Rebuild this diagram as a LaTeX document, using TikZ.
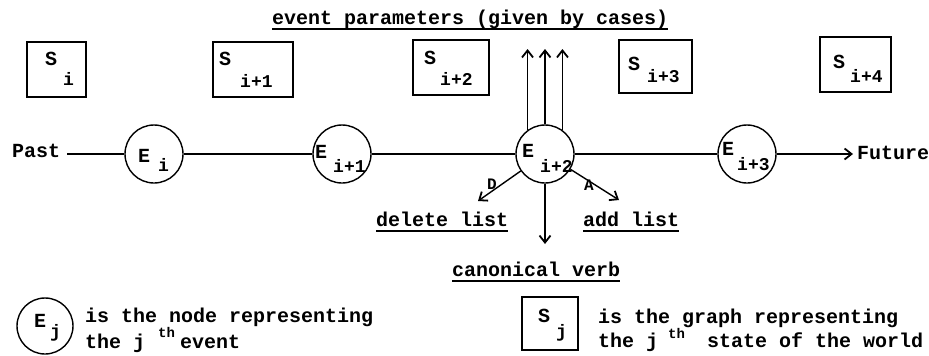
\documentclass[tikz,border=0pt]{standalone}
\usepackage{fontspec}
\setmainfont{Liberation Mono}
\usetikzlibrary{arrows.meta}
\tikzset{
  txt/.style={anchor=base west, inner sep=0pt, font=\fontsize{20}{24}\selectfont\bfseries},
  sub/.style={anchor=base west, inner sep=0pt, font=\fontsize{18}{22}\selectfont\bfseries},
  sml/.style={anchor=base west, inner sep=0pt, font=\fontsize{16}{20}\selectfont\bfseries},
  sup/.style={anchor=base west, inner sep=0pt, font=\fontsize{14}{16}\selectfont\bfseries},
  ev/.style={circle, draw, line width=1.4pt, minimum size=58pt, inner sep=0pt},
  st/.style={rectangle, draw, line width=1.4pt, inner sep=0pt},
  ln/.style={line width=1.4pt},
  arr/.style={line width=1.4pt, -{Straight Barb[length=7pt,width=11pt,line width=1.8pt]}},
  ul/.style={line width=1.8pt}
}
\begin{document}
\begin{tikzpicture}[x=1pt,y=-1pt]
\useasboundingbox (0,0) rectangle (929,356);
% title
\node[txt] (evp) at (272,24) {event parameters (given by cases)};
\draw[ul] ([yshift=-5pt]evp.base west) -- ([yshift=-5pt]evp.base east);
% state boxes
\node[st, minimum width=59pt, minimum height=55pt] (si) at (56.5,69.5) {};
\node[txt] (si-s) at (45,65) {S};
\node[sub] (si-b) at (63,85) {i};
\node[st, minimum width=80pt, minimum height=55pt] (si1) at (253,69.5) {};
\node[txt] (si1-s) at (219,65) {S};
\node[sub] (si1-b) at (240,87) {i+1};
\node[st, minimum width=76pt, minimum height=55pt] (si2) at (451,67.5) {};
\node[txt] (si2-s) at (424,64) {S};
\node[sub] (si2-b) at (440,85) {i+2};
\node[st, minimum width=73pt, minimum height=53pt] (si3) at (655.5,66.5) {};
\node[txt] (si3-s) at (628,70) {S};
\node[sub] (si3-b) at (647,82) {i+3};
\node[st, minimum width=71pt, minimum height=55pt] (si4) at (855.5,64.5) {};
\node[txt] (si4-s) at (833,68) {S};
\node[sub] (si4-b) at (850,82) {i+4};
% event circles
\node[ev] (ei) at (154,154) {};
\node[txt] (ei-e) at (138,162) {E};
\node[sub] (ei-b) at (158,171) {i};
\node[ev] (ei1) at (342,154) {};
\node[txt] (ei1-e) at (315,158) {E};
\node[sub] (ei1-b) at (333,172) {i+1};
\node[ev] (ei2) at (545,154) {};
\node[txt] (ei2-e) at (522,157) {E};
\node[sub] (ei2-b) at (540,172) {i+2};
\node[ev] (ei3) at (747,154) {};
\node[txt] (ei3-e) at (722,155) {E};
\node[sub] (ei3-b) at (737,170) {i+3};
% timeline
\node[txt] (past) at (12,157) {Past};
\node[txt] (future) at (857,159) {Future};
\draw[ln] ([xshift=7pt]past.east |- ei.west) -- (ei.west);
\draw[ln] (ei.east) -- (ei1.west);
\draw[ln] (ei1.east) -- (ei2.west);
\draw[ln] (ei2.east) -- (ei3.west);
\draw[arr] (ei3.east) -- ([xshift=-4pt]future.west |- ei3.east);
% parameter arrows
\coordinate (top) at (545,49);
\draw[arr] (ei2.126) -- (ei2.126 |- top);
\draw[arr] (ei2.north) -- (ei2.north |- top);
\draw[arr] (ei2.54) -- (ei2.54 |- top);
% delete / add / verb
\coordinate (dtip) at (478,201);
\coordinate (atip) at (619,200);
\coordinate (vtip) at (545,244);
\draw[arr] (ei2.215) -- (dtip);
\draw[arr] (ei2.-31) -- (atip);
\draw[arr] (ei2.south) -- (vtip);
\node[sml] (dl) at (487,189) {D};
\node[sml] (al) at (584,190) {A};
\node[txt] (del) at (376,226) {delete list};
\draw[ul] ([yshift=-5pt]del.base west) -- ([yshift=-5pt]del.base east);
\node[txt] (add) at (583,226) {add list};
\draw[ul] ([yshift=-5pt]add.base west) -- ([yshift=-5pt]add.base east);
\node[txt] (cv) at (452,276) {canonical verb};
\draw[ul] ([yshift=-5pt]cv.base west) -- ([yshift=-5pt]cv.base east);
% legend
\node[ev, minimum size=56pt] (ej) at (45,326) {};
\node[txt] (ej-e) at (34,327) {E};
\node[sub] (ej-b) at (50,337) {j};
\node[txt] (l1) at (85,322) {is the node representing};
\node[txt] (l2) at (85,348) {the j};
\node[sup] (l2t) at (158,337) {th};
\node[txt] (l2e) at (180,348) {event};
\node[st, minimum width=56pt, minimum height=53pt] (sj) at (550,323.5) {};
\node[txt] (sj-s) at (538,322) {S};
\node[sub] (sj-b) at (556,337) {j};
\node[txt] (r1) at (598,323) {is the graph representing};
\node[txt] (r2) at (598,347) {the j};
\node[sup] (r2t) at (668,338.5) {th};
\node[txt] (r2e) at (707,347) {state of the world};
\end{tikzpicture}
\end{document}
